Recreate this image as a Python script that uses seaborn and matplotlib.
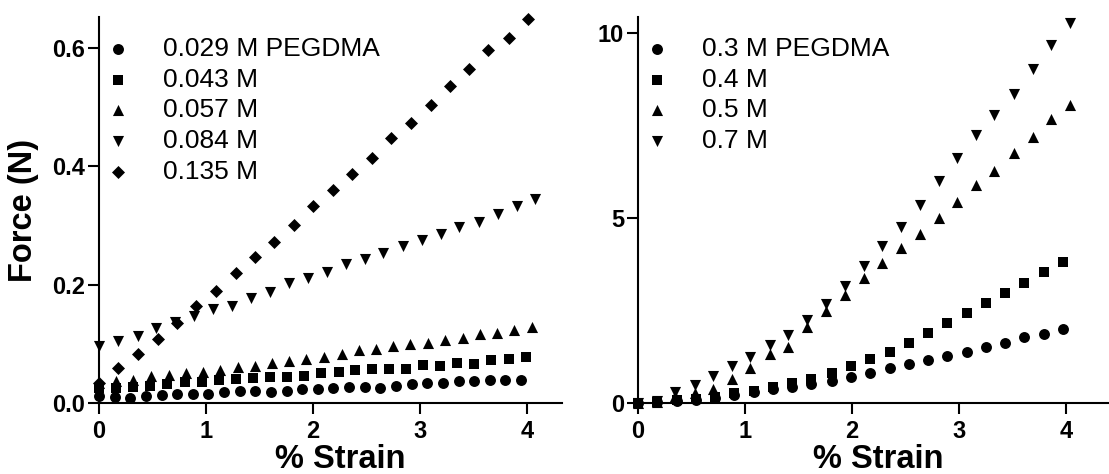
import numpy as np
import pandas as pd
import matplotlib
matplotlib.use("Agg")
import matplotlib.pyplot as plt
import seaborn as sns

# ---- left panel: low PEGDMA concentrations ----
strain_029 = [0, 0.15, 0.29, 0.44, 0.59, 0.73, 0.88, 1.02, 1.17, 1.32, 1.46, 1.61, 1.76, 1.90,
              2.05, 2.19, 2.34, 2.49, 2.63, 2.78, 2.93, 3.07, 3.22, 3.37, 3.51, 3.66, 3.80, 3.95]
force_029 = [0.012, 0.010, 0.009, 0.012, 0.0135, 0.016, 0.016, 0.016, 0.019, 0.020, 0.021, 0.019,
             0.020, 0.023, 0.023, 0.025, 0.027, 0.027, 0.025, 0.029, 0.032, 0.034, 0.034, 0.037,
             0.037, 0.038, 0.039, 0.039]

strain_043 = [0, 0.16, 0.32, 0.48, 0.64, 0.80, 0.96, 1.12, 1.28, 1.44, 1.60, 1.76, 1.92, 2.08,
              2.24, 2.39, 2.55, 2.71, 2.87, 3.03, 3.19, 3.35, 3.51, 3.67, 3.83, 3.99]
force_043 = [0.025, 0.026, 0.027, 0.029, 0.032, 0.035, 0.035, 0.038, 0.040, 0.043, 0.044, 0.044,
             0.045, 0.050, 0.053, 0.055, 0.057, 0.058, 0.058, 0.064, 0.063, 0.067, 0.066, 0.073,
             0.075, 0.078]

strain_057 = [0, 0.16, 0.32, 0.49, 0.65, 0.81, 0.97, 1.13, 1.30, 1.46, 1.62, 1.78, 1.94, 2.10,
              2.27, 2.43, 2.59, 2.75, 2.91, 3.08, 3.24, 3.40, 3.56, 3.72, 3.88, 4.05]
force_057 = [0.034, 0.037, 0.039, 0.046, 0.047, 0.051, 0.053, 0.056, 0.060, 0.062, 0.067, 0.071,
             0.075, 0.078, 0.082, 0.090, 0.092, 0.096, 0.100, 0.102, 0.106, 0.109, 0.117, 0.119,
             0.123, 0.128]

strain_084 = [0, 0.18, 0.36, 0.53, 0.71, 0.89, 1.07, 1.24, 1.42, 1.60, 1.78, 1.95, 2.13, 2.31,
              2.49, 2.66, 2.84, 3.02, 3.20, 3.37, 3.55, 3.73, 3.91, 4.08]
force_084 = [0.096, 0.104, 0.113, 0.127, 0.136, 0.147, 0.159, 0.164, 0.177, 0.188, 0.203, 0.211,
             0.222, 0.235, 0.243, 0.254, 0.266, 0.275, 0.285, 0.298, 0.306, 0.319, 0.333, 0.345]

strain_135 = [0, 0.18, 0.36, 0.55, 0.73, 0.91, 1.09, 1.28, 1.46, 1.64, 1.82, 2.00, 2.19, 2.37,
              2.55, 2.73, 2.92, 3.10, 3.28, 3.46, 3.64, 3.83, 4.01]
force_135 = [0.033, 0.059, 0.083, 0.108, 0.135, 0.164, 0.190, 0.219, 0.247, 0.272, 0.301, 0.332,
             0.359, 0.387, 0.414, 0.447, 0.473, 0.503, 0.535, 0.564, 0.596, 0.617, 0.648]

labels_left = ["0.029 M PEGDMA", "0.043 M", "0.057 M", "0.084 M", "0.135 M"]

# ---- right panel: high PEGDMA concentrations ----
strain_cs = [0, 0.18, 0.36, 0.54, 0.72, 0.90, 1.08, 1.26, 1.44, 1.62, 1.81, 1.99, 2.17, 2.35,
             2.53, 2.71, 2.89, 3.07, 3.25, 3.43, 3.61, 3.79, 3.97]
force_03 = [0, 0.03, 0.06, 0.09, 0.13, 0.22, 0.29, 0.37, 0.42, 0.51, 0.60, 0.71, 0.82, 0.95,
            1.05, 1.16, 1.28, 1.39, 1.52, 1.63, 1.78, 1.87, 1.99]
force_04 = [0, 0.04, 0.08, 0.12, 0.17, 0.26, 0.32, 0.44, 0.53, 0.66, 0.82, 0.99, 1.18, 1.39,
            1.63, 1.90, 2.16, 2.43, 2.70, 2.98, 3.25, 3.55, 3.82]

strain_tri = [0, 0.18, 0.35, 0.53, 0.70, 0.88, 1.05, 1.23, 1.40, 1.58, 1.76, 1.93, 2.11, 2.28,
              2.46, 2.63, 2.81, 2.98, 3.16, 3.33, 3.51, 3.69, 3.86, 4.04]
force_05 = [0, 0.03, 0.20, 0.27, 0.39, 0.64, 0.96, 1.33, 1.52, 2.06, 2.49, 2.92, 3.37, 3.78,
            4.18, 4.57, 5.00, 5.45, 5.90, 6.28, 6.75, 7.20, 7.67, 8.06]
force_07 = [0, 0.05, 0.30, 0.49, 0.73, 0.99, 1.24, 1.56, 1.83, 2.24, 2.68, 3.17, 3.71, 4.25,
            4.77, 5.36, 6.01, 6.62, 7.25, 7.79, 8.36, 9.03, 9.68, 10.29]

labels_right = ["0.3 M PEGDMA", "0.4 M", "0.5 M", "0.7 M"]

# marker style per series position: (marker, size)
styles = [("o", 62), ("s", 54), ("^", 64), ("v", 64), ("D", 44)]

sns.set_style("ticks")
plt.rcParams["font.family"] = ["Liberation Sans", "DejaVu Sans"]
plt.rcParams["axes.linewidth"] = 1.5
for key in ["text.color", "axes.labelcolor", "xtick.color", "ytick.color", "axes.edgecolor"]:
    plt.rcParams[key] = "black"

fig = plt.figure(figsize=(11.09, 4.74), dpi=100)
ax1 = fig.add_axes([0.0893, 0.1498, 0.4175, 0.8143])
ax2 = fig.add_axes([0.5753, 0.1498, 0.4247, 0.8143])

left_series = [(strain_029, force_029), (strain_043, force_043), (strain_057, force_057),
               (strain_084, force_084), (strain_135, force_135)]
right_series = [(strain_cs, force_03), (strain_cs, force_04),
                (strain_tri, force_05), (strain_tri, force_07)]

panels = [(ax1, left_series, labels_left, 0.0125), (ax2, right_series, labels_right, 0.0123)]
for ax, series, labels, lx in panels:
    for (xs, ys), lab, (mk, sz) in zip(series, labels, styles):
        df = pd.DataFrame({"strain": xs, "force": ys})
        sns.scatterplot(data=df, x="strain", y="force", marker=mk, s=sz, color="black",
                        linewidth=0, label=lab, ax=ax, clip_on=False, zorder=3)
    ax.legend(loc="upper left", bbox_to_anchor=(lx, 0.949), frameon=False, fontsize=19,
              handlelength=1.0, handletextpad=1.2, labelspacing=0.26, borderpad=0,
              borderaxespad=0, scatterpoints=1, labelcolor="black")
    sns.despine(ax=ax)
    ax.tick_params(direction="out", length=8, width=1.5, labelsize=17)
    ax.tick_params(axis="y", pad=2)
    ax.tick_params(axis="x", pad=4)
    ax.set_xticks([0, 1, 2, 3, 4])
    ax.set_xlabel("% Strain", fontsize=23.5, fontweight="bold")
    ax.set_ylabel("")

ax1.set_xlim(0, 4.33)
ax1.set_ylim(0, 0.652)
ax1.set_yticks([0.0, 0.2, 0.4, 0.6])
ax1.set_ylabel("Force (N)", fontsize=23.5, fontweight="bold")
ax1.yaxis.set_label_coords(-0.13, 0.5)
ax1.xaxis.set_label_coords(0.52, -0.106)

ax2.set_xlim(0, 4.4)
ax2.set_ylim(0, 10.44)
ax2.set_yticks([0, 5, 10])
ax2.xaxis.set_label_coords(0.51, -0.106)

for ax in (ax1, ax2):
    for t in ax.get_xticklabels() + ax.get_yticklabels():
        t.set_fontweight("bold")

fig.savefig("out.png", dpi=100)
